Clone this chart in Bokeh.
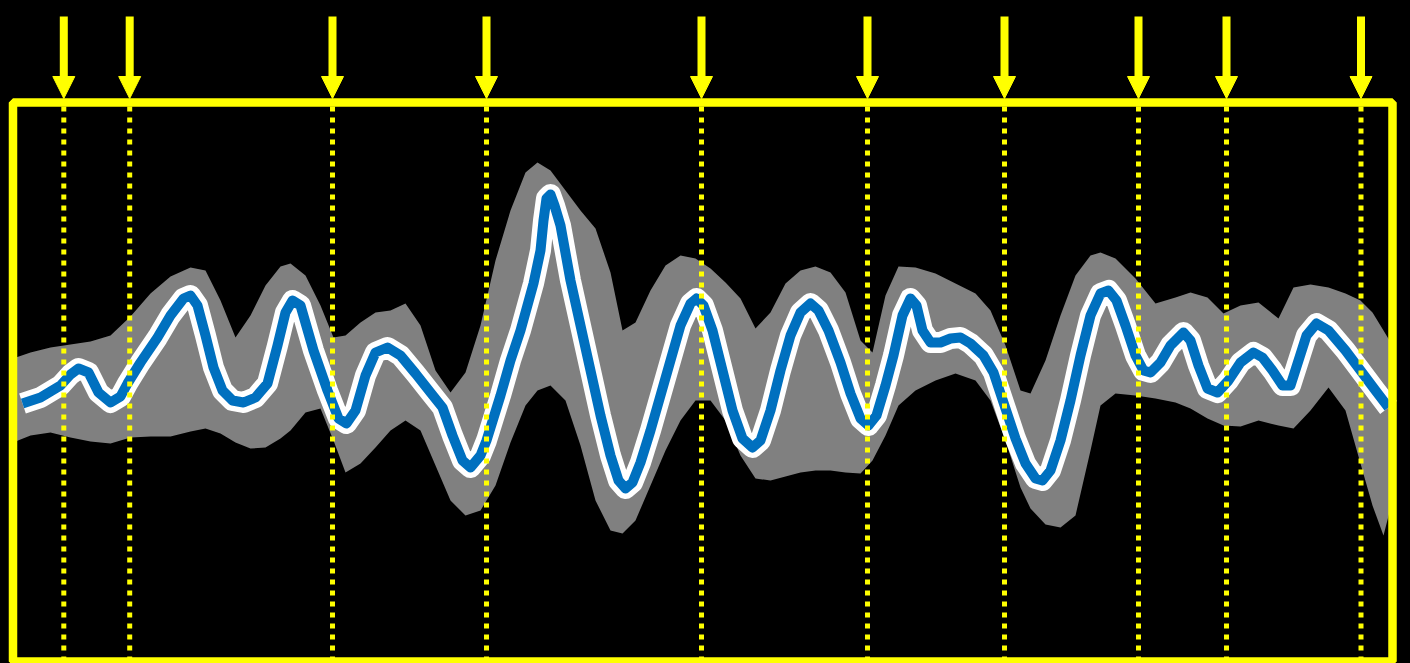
from bokeh.plotting import figure
from bokeh.models import ColumnDataSource, Arrow, NormalHead, Range1d
from bokeh.embed import file_html
from bokeh.resources import INLINE

# ---------------- data ----------------
# sampled locations (arrows / dotted markers)
sample_x = [0.508, 1.167, 3.195, 4.735, 6.885, 8.545, 9.915, 11.255, 12.135, 13.48]

# mean curve
line_x = [0.095, 0.275, 0.475, 0.575, 0.655, 0.755, 0.855, 0.975, 1.075, 1.145,
          1.275, 1.445, 1.575, 1.705, 1.775, 1.845, 1.925, 2.005, 2.095, 2.195,
          2.305, 2.425, 2.545, 2.645, 2.725, 2.795, 2.875, 3.005, 3.145, 3.255,
          3.335, 3.425, 3.525, 3.625, 3.745, 3.875, 4.025, 4.175, 4.295, 4.395,
          4.495, 4.575, 4.675, 4.735, 4.875, 4.975, 5.075, 5.205, 5.275, 5.305,
          5.335, 5.375, 5.415, 5.475, 5.575, 5.675, 5.775, 5.875, 5.975, 6.055,
          6.125, 6.195, 6.275, 6.375, 6.475, 6.575, 6.675, 6.775, 6.835, 6.905,
          6.995, 7.095, 7.195, 7.295, 7.395, 7.475, 7.575, 7.675, 7.775, 7.875,
          7.975, 8.055, 8.155, 8.275, 8.375, 8.475, 8.555, 8.635, 8.725, 8.805,
          8.895, 8.975, 9.035, 9.095, 9.175, 9.275, 9.375, 9.475, 9.575, 9.705,
          9.805, 9.915, 10.025, 10.125, 10.225, 10.295, 10.375, 10.475, 10.575, 10.675,
          10.775, 10.875, 10.955, 11.035, 11.125, 11.225, 11.305, 11.375, 11.475, 11.575,
          11.705, 11.775, 11.855, 11.945, 12.045, 12.155, 12.275, 12.405, 12.495, 12.595,
          12.695, 12.775, 12.855, 12.935, 13.035, 13.155, 13.325, 13.475, 13.625, 13.755]
line_y = [-0.215, -0.155, -0.035, 0.075, 0.135, 0.095, -0.105, -0.205, -0.145, -0.015,
          0.195, 0.445, 0.665, 0.835, 0.865, 0.765, 0.465, 0.145, -0.085, -0.185,
          -0.205, -0.155, -0.015, 0.365, 0.695, 0.815, 0.765, 0.315, -0.085, -0.365,
          -0.415, -0.285, 0.065, 0.295, 0.345, 0.265, 0.085, -0.105, -0.255, -0.535,
          -0.785, -0.855, -0.735, -0.585, -0.135, 0.215, 0.515, 0.985, 1.315, 1.615,
          1.835, 1.875, 1.765, 1.565, 1.015, 0.565, 0.115, -0.335, -0.735, -0.985,
          -1.065, -1.005, -0.805, -0.485, -0.135, 0.215, 0.565, 0.785, 0.835, 0.765,
          0.515, 0.115, -0.285, -0.565, -0.655, -0.585, -0.285, 0.115, 0.465, 0.695,
          0.785, 0.715, 0.515, 0.195, -0.115, -0.365, -0.435, -0.335, -0.035, 0.265,
          0.665, 0.835, 0.765, 0.515, 0.395, 0.395, 0.435, 0.445, 0.385, 0.265,
          0.095, -0.235, -0.565, -0.815, -0.965, -0.985, -0.885, -0.585, -0.185, 0.265,
          0.665, 0.885, 0.915, 0.815, 0.565, 0.265, 0.115, 0.095, 0.195, 0.365,
          0.495, 0.415, 0.165, -0.065, -0.105, 0.015, 0.195, 0.295, 0.245, 0.115,
          -0.035, -0.035, 0.215, 0.465, 0.585, 0.515, 0.315, 0.115, -0.085, -0.255]

# uncertainty band
band_x = [0.0, 0.175, 0.375, 0.575, 0.775, 0.975, 1.175, 1.375, 1.575, 1.775,
          1.925, 2.075, 2.225, 2.375, 2.525, 2.675, 2.775, 2.925, 3.075, 3.205,
          3.325, 3.475, 3.625, 3.775, 3.925, 4.075, 4.225, 4.375, 4.525, 4.675,
          4.825, 4.975, 5.125, 5.245, 5.375, 5.525, 5.675, 5.825, 5.975, 6.095,
          6.225, 6.375, 6.525, 6.675, 6.825, 6.975, 7.125, 7.275, 7.425, 7.575,
          7.725, 7.875, 8.025, 8.175, 8.325, 8.475, 8.595, 8.725, 8.855, 9.025,
          9.225, 9.425, 9.625, 9.775, 9.925, 10.075, 10.175, 10.325, 10.475, 10.625,
          10.775, 10.875, 11.025, 11.225, 11.425, 11.625, 11.775, 11.945, 12.105, 12.275,
          12.455, 12.655, 12.805, 12.975, 13.155, 13.325, 13.475, 13.595, 13.705, 13.795]
band_upper = [0.235, 0.295, 0.345, 0.375, 0.405, 0.465, 0.655, 0.885, 1.055, 1.145,
              1.115, 0.815, 0.445, 0.665, 0.965, 1.155, 1.185, 1.065, 0.765, 0.445,
              0.465, 0.595, 0.695, 0.715, 0.785, 0.565, 0.115, -0.105, 0.095, 0.565,
              1.215, 1.715, 2.095, 2.195, 2.115, 1.915, 1.715, 1.535, 1.095, 0.515,
              0.595, 0.915, 1.165, 1.265, 1.235, 1.135, 0.995, 0.835, 0.535, 0.695,
              0.985, 1.115, 1.155, 1.095, 0.895, 0.415, 0.295, 0.865, 1.155, 1.145,
              1.085, 0.985, 0.885, 0.715, 0.365, -0.085, -0.115, 0.215, 0.665, 1.065,
              1.265, 1.295, 1.235, 1.035, 0.785, 0.845, 0.895, 0.845, 0.685, 0.765,
              0.795, 0.635, 0.945, 0.975, 0.945, 0.885, 0.815, 0.695, 0.515, 0.365]
band_lower = [-0.605, -0.535, -0.505, -0.555, -0.595, -0.615, -0.555, -0.545, -0.545, -0.495,
              -0.465, -0.515, -0.605, -0.665, -0.655, -0.565, -0.485, -0.305, -0.265, -0.585,
              -0.905, -0.815, -0.655, -0.485, -0.385, -0.485, -0.835, -1.185, -1.335, -1.285,
              -1.035, -0.605, -0.235, -0.085, -0.035, -0.185, -0.635, -1.185, -1.485, -1.515,
              -1.385, -1.035, -0.685, -0.385, -0.185, -0.185, -0.385, -0.735, -0.965, -0.985,
              -0.945, -0.905, -0.885, -0.885, -0.905, -0.915, -0.785, -0.535, -0.235, -0.085,
              0.015, 0.085, 0.015, -0.185, -0.585, -1.055, -1.265, -1.425, -1.455, -1.335,
              -0.685, -0.235, -0.115, -0.135, -0.165, -0.205, -0.265, -0.365, -0.435, -0.445,
              -0.385, -0.435, -0.465, -0.285, -0.055, -0.285, -0.815, -1.235, -1.535, -1.185]

assert len(line_x) == len(line_y)
assert len(band_x) == len(band_upper) == len(band_lower)

# axes limits (the yellow frame)
X0, X1 = 0.0, 13.795
Y0, Y1 = -2.795, 2.795

YELLOW = "#FFFF00"
BLUE = "#0070BF"
GRAY = "#808080"

p = figure(width=1410, height=663, output_backend="svg", toolbar_location=None,
           x_range=Range1d(-0.125, 13.975), y_range=Range1d(-2.815, 3.815),
           min_border=0, background_fill_color="black", border_fill_color="black",
           outline_line_color=None)
p.axis.visible = False
p.grid.visible = False

p.varea(x=band_x, y1=band_lower, y2=band_upper, fill_color=GRAY, fill_alpha=1.0)
p.line(line_x, line_y, line_width=21, line_color="white", line_join="round", line_cap="butt")
p.line(line_x, line_y, line_width=10, line_color=BLUE, line_join="round", line_cap="butt")

seg = ColumnDataSource(dict(x=sample_x, y0=[Y0] * len(sample_x), y1=[Y1] * len(sample_x)))
p.segment(x0="x", y0="y0", x1="x", y1="y1", source=seg, line_color=YELLOW,
          line_width=5, line_dash="5 6")

p.quad(left=[X0], right=[X1], bottom=[Y0], top=[Y1], fill_color=None,
       line_color=YELLOW, line_width=8.5)

arrow_top = Y1 + 0.86
arrow_tip = Y1 + 0.04
asrc = ColumnDataSource(dict(x0=sample_x, x1=sample_x,
                             y0=[arrow_top] * len(sample_x), y1=[arrow_tip] * len(sample_x)))
p.add_layout(Arrow(end=NormalHead(size=22, fill_color=YELLOW, line_color=YELLOW, line_width=1),
                   x_start="x0", y_start="y0", x_end="x1", y_end="y1", source=asrc,
                   line_color=YELLOW, line_width=8))

html = file_html(p, INLINE)
html = html.replace("</head>", "<style>html,body{margin:0;padding:0;background:#000;overflow:hidden;}</style></head>", 1)
open("out.html", "w").write(html)
